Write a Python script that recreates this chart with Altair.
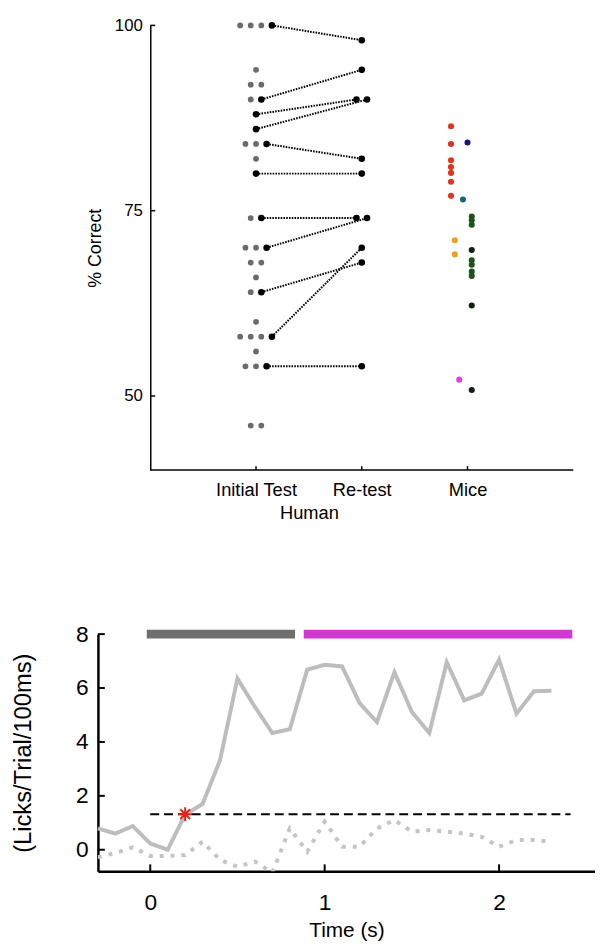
import altair as alt
import pandas as pd

# ---------------- Top panel data (% correct) ----------------
categories = ["Initial Test", "Re-test", "Mice"]
group_title = "Human"
human_initial_only = [100, 100, 100, 94, 92, 92, 90, 84, 84, 82, 74, 70, 70, 68, 68,
                      66, 64, 60, 58, 58, 58, 56, 54, 54, 46, 46]
retest_initial = [100, 90, 88, 86, 84, 80, 74, 70, 64, 58, 54]
retest_second = [98, 94, 90, 90, 82, 80, 74, 74, 68, 70, 54]
mice_values = [86.4, 84.0, 81.8, 80.9, 80.1, 78.9, 77.0,
               84.2,
               76.5,
               74.2, 73.7, 73.1, 68.3, 67.7, 66.8, 66.2,
               69.7, 62.2, 50.8,
               71.0, 69.1,
               52.2]
mice_groups = ["M1", "M1", "M1", "M1", "M1", "M1", "M1",
               "M2",
               "M3",
               "M4", "M4", "M4", "M4", "M4", "M4", "M4",
               "M5", "M5", "M5",
               "M6", "M6",
               "M7"]

# ---------------- Bottom panel data (lick rate) ----------------
time_s = [-0.3, -0.2, -0.1, 0.0, 0.1, 0.2, 0.3, 0.4, 0.5, 0.6, 0.7, 0.8, 0.9, 1.0,
          1.1, 1.2, 1.3, 1.4, 1.5, 1.6, 1.7, 1.8, 1.9, 2.0, 2.1, 2.2, 2.3]
go_licks = [0.79, 0.6, 0.88, 0.23, 0.0, 1.3, 1.7, 3.32, 6.35, 5.3, 4.33, 4.47, 6.68, 6.86,
            6.8, 5.44, 4.74, 6.59, 5.11, 4.33, 6.96, 5.54, 5.79, 7.05, 5.05, 5.88, 5.9]
nogo_licks = [-0.28, -0.12, 0.09, -0.23, -0.23, -0.2, 0.3, -0.38, -0.63, -0.44, -0.85, 0.79, -0.07, 1.04,
              0.11, 0.11, 0.79, 1.1, 0.67, 0.73, 0.67, 0.6, 0.48, 0.11, 0.36, 0.36, 0.3]
period_names = ["odor", "reward"]
period_start = [-0.02, 0.88]
period_end = [0.83, 2.42]
period_level = [8, 8]
threshold = 1.32
threshold_start = 0.0
threshold_end = 2.41
crossing_time = 0.2

# ---------------- styles / layout ----------------
FONT = "Liberation Sans"
mice_colors = {"M1": "#e3321f", "M2": "#14147a", "M3": "#166a6e", "M4": "#1c521c",
               "M5": "#0c220c", "M6": "#f0a021", "M7": "#dc3ee8"}
mice_shift = {"M1": -0.156, "M2": 0.0, "M3": -0.043, "M4": 0.040, "M5": 0.040,
              "M6": -0.12, "M7": -0.078}
period_colors = ["#6e6e6e", "#d038d0"]
SWARM_STEP = 0.1

TOP_W, TOP_H = 481, 450
X_MIN, X_MAX = -0.495, 4.0
Y_MIN, Y_MAX = 40, 100
ppu = TOP_W / (X_MAX - X_MIN)
ppv = TOP_H / (Y_MAX - Y_MIN)

BOT_W, BOT_H = 503, 240
T_MIN, T_MAX = -0.3, 2.55
L_MIN, L_MAX = -0.8, 8


def swarm(values, order):
    df = pd.DataFrame({"v": values, "o": order}).sort_values(["v", "o"], kind="stable")
    df["rank"] = df.groupby("v").cumcount()
    df["n"] = df.groupby("v")["v"].transform("size")
    df["off"] = (df["rank"] - (df["n"] - 1) / 2) * SWARM_STEP
    return df.sort_index()["off"].tolist()


# initial test: gray (non-retested) first, then black
init_vals = human_initial_only + retest_initial
init_order = [0] * len(human_initial_only) + [1] * len(retest_initial)
init_off = swarm(init_vals, init_order)
gray_df = pd.DataFrame({"x": [1 + o for o in init_off[:len(human_initial_only)]],
                        "y": human_initial_only})
black_init_x = [1 + o for o in init_off[len(human_initial_only):]]
ret_off = swarm(retest_second, list(range(len(retest_second))))
black_ret_x = [2 + o for o in ret_off]
black_df = pd.DataFrame({"x": black_init_x + black_ret_x, "y": retest_initial + retest_second})
pair_rows = []
for i in range(len(retest_initial)):
    pair_rows.append({"pair": i, "x": black_init_x[i], "y": retest_initial[i]})
    pair_rows.append({"pair": i, "x": black_ret_x[i], "y": retest_second[i]})
pair_df = pd.DataFrame(pair_rows)
mice_df = pd.DataFrame({"x": [3 + mice_shift[g] for g in mice_groups], "y": mice_values,
                        "group": mice_groups})

base_df = pd.DataFrame({"x": [0], "x2": [X_MAX], "y": [Y_MIN]})
xtick_df = pd.DataFrame({"x": [1, 2, 3], "y": [Y_MIN] * 3, "y2": [Y_MIN + 4 / ppv] * 3})
ytick_df = pd.DataFrame({"x": [0] * 3, "x2": [5 / ppu] * 3, "y": [50, 75, 100]})

label_expr = " : ".join([f"datum.value == {i + 1} ? '{c}'" for i, c in enumerate(categories[:-1])]) \
    + f" : '{categories[-1]}'"

X = alt.X("x:Q", scale=alt.Scale(domain=[X_MIN, X_MAX], nice=False, zero=False),
          axis=alt.Axis(values=[1, 2, 3], labelExpr=label_expr, ticks=False, domain=False,
                        grid=False, labelPadding=11, labelFontSize=18.5, labelColor="black",
                        labelOverlap=False, labelFlush=False,
                        title=group_title, titleX=(1.5 - X_MIN) * ppu, titleFontSize=18.5,
                        titleFontWeight="normal", titleColor="black", titlePadding=4))
Y = alt.Y("y:Q", scale=alt.Scale(domain=[Y_MIN, Y_MAX], nice=False, zero=False),
          axis=alt.Axis(values=[50, 75, 100], offset=-(0 - X_MIN) * ppu, ticks=False,
                        domainColor="black", domainWidth=1.5, grid=False, labelPadding=8,
                        labelFontSize=17, labelColor="black", title="% Correct",
                        titleFontSize=18, titleFontWeight="normal", titleColor="black",
                        titlePadding=10))

top_base = alt.Chart(base_df).mark_rule(color="black", strokeWidth=1.5).encode(x=X, x2="x2", y=Y)
top_xt = alt.Chart(xtick_df).mark_rule(color="black", strokeWidth=1.5).encode(x=X, y=Y, y2="y2")
top_yt = alt.Chart(ytick_df).mark_rule(color="black", strokeWidth=1.5).encode(x=X, x2="x2", y=Y)
top_lines = alt.Chart(pair_df).mark_line(color="black", strokeWidth=2, strokeDash=[1.6, 1.2]).encode(
    x=X, y=Y, detail="pair:N")
top_gray = alt.Chart(gray_df).mark_circle(color="#6b6b6b", size=34, opacity=1).encode(x=X, y=Y)
top_black = alt.Chart(black_df).mark_circle(color="black", size=44, opacity=1).encode(x=X, y=Y)
top_mice = alt.Chart(mice_df).mark_circle(size=38, opacity=1).encode(
    x=X, y=Y,
    color=alt.Color("group:N", scale=alt.Scale(domain=list(mice_colors.keys()),
                                               range=list(mice_colors.values())), legend=None))
top = alt.layer(top_base, top_xt, top_yt, top_lines, top_gray, top_black, top_mice).properties(
    width=TOP_W, height=TOP_H)

# ---------------- bottom ----------------
bppu = BOT_W / (T_MAX - T_MIN)
bppv = BOT_H / (L_MAX - L_MIN)
go_df = pd.DataFrame({"t": time_s, "v": go_licks})
nogo_df = pd.DataFrame({"t": time_s, "v": nogo_licks})
period_df = pd.DataFrame({"name": period_names, "t": period_start, "t2": period_end, "v": period_level})
thr_df = pd.DataFrame({"t": [threshold_start], "t2": [threshold_end], "v": [threshold]})
star_df = pd.DataFrame({"t": [crossing_time], "v": [threshold]})
bxt_df = pd.DataFrame({"t": [0, 1, 2], "v": [L_MIN] * 3, "v2": [L_MIN + 7 / bppv] * 3})
byt_df = pd.DataFrame({"t": [T_MIN] * 5, "t2": [T_MIN + 7 / bppu] * 5, "v": [0, 2, 4, 6, 8]})

BX = alt.X("t:Q", scale=alt.Scale(domain=[T_MIN, T_MAX], nice=False, zero=False),
           axis=alt.Axis(values=[0, 1, 2], ticks=False, domainColor="black", domainWidth=2.5,
                         grid=False, labelPadding=21, labelFontSize=23, labelColor="black",
                         labelFlush=False, title="Time (s)", titleFontSize=21,
                         titleFontWeight="normal", titleColor="black", titlePadding=5))
BY = alt.Y("v:Q", scale=alt.Scale(domain=[L_MIN, L_MAX], nice=False, zero=False),
           axis=alt.Axis(values=[0, 2, 4, 6, 8], ticks=False, domainColor="black", domainWidth=2.5,
                         grid=False, labelPadding=10, labelFontSize=23, labelColor="black",
                         labelFlush=False, title="(Licks/Trial/100ms)", titleFontSize=24,
                         titleFontWeight="normal", titleColor="black", titlePadding=40))

b_periods = alt.Chart(period_df).mark_rule(strokeWidth=9, strokeCap="butt").encode(
    x=BX, x2="t2", y=BY,
    color=alt.Color("name:N", scale=alt.Scale(domain=period_names, range=period_colors), legend=None))
b_nogo = alt.Chart(nogo_df).mark_line(color="#c4c4c4", strokeWidth=4, strokeDash=[4, 7], clip=True).encode(
    x=BX, y=BY)
b_go = alt.Chart(go_df).mark_line(color="#bdbdbd", strokeWidth=4).encode(x=BX, y=BY)
b_thr = alt.Chart(thr_df).mark_rule(color="black", strokeWidth=2, strokeDash=[9, 5]).encode(
    x=BX, x2="t2", y=BY)
asterisk = "M0,-1L0,1M-1,0L1,0M-0.7,-0.7L0.7,0.7M-0.7,0.7L0.7,-0.7"
b_star = alt.Chart(star_df).mark_point(shape=asterisk, size=200, color="#e8241a", strokeWidth=2,
                                       filled=False, opacity=1).encode(x=BX, y=BY)
b_xt = alt.Chart(bxt_df).mark_rule(color="black", strokeWidth=2).encode(x=BX, y=BY, y2="v2")
b_yt = alt.Chart(byt_df).mark_rule(color="black", strokeWidth=2).encode(x=BX, x2="t2", y=BY)

bottom = alt.layer(b_periods, b_nogo, b_go, b_thr, b_star, b_xt, b_yt).properties(
    width=BOT_W, height=BOT_H)

chart = alt.vconcat(top, bottom, spacing=103).resolve_scale(color="independent").properties(
    padding={"left": 4, "top": 3, "right": 0, "bottom": 0}
).configure(font=FONT).configure_view(stroke=None)

chart.save("out.html", embed_options={"renderer": "svg", "actions": False})
